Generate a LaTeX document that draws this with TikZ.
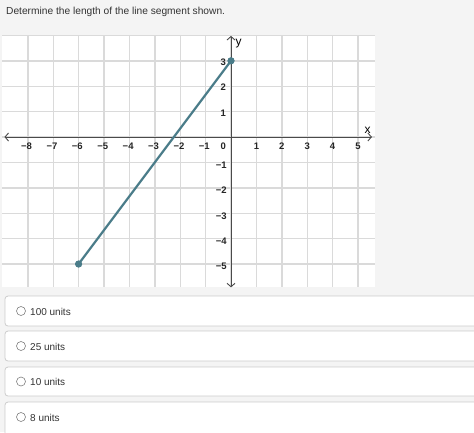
\documentclass[tikz,border=0pt]{standalone}
\usepackage{fontspec}
\setmainfont{Liberation Sans}
\usetikzlibrary{arrows.meta}
\definecolor{pagebg}{HTML}{F4F4F4}
\definecolor{gridc}{HTML}{DADADA}
\definecolor{axisc}{HTML}{4A4A4A}
\definecolor{segc}{RGB}{74,124,137}
\definecolor{txtc}{HTML}{333333}
\definecolor{boxc}{HTML}{CCCCCC}
\tikzset{
  gridline/.style={draw=gridc, line width=1.4pt},
  axisline/.style={draw=axisc, line width=0.9pt, {Straight Barb[length=3.5pt,width=8pt]}-{Straight Barb[length=3.5pt,width=8pt]}},
  ticklab/.style={font=\fontsize{9.5}{10}\selectfont\bfseries, text=black!85, inner sep=0pt},
  seg/.style={draw=segc, line width=2.2pt},
  enddot/.style={circle, fill=segc, inner sep=0pt, minimum size=7pt},
  answerbox/.style={draw=boxc, fill=white, line width=0.8pt, rounded corners=3pt},
  radio/.style={circle, draw=gray, line width=0.6pt, fill=white, inner sep=0pt, minimum size=9pt},
  anstext/.style={font=\fontsize{10}{12}\selectfont, text=txtc, anchor=west, inner sep=0pt}
}
\begin{document}
\begin{tikzpicture}[x=1pt, y=-1pt]
\useasboundingbox (0,0) rectangle (474,432);
\fill[pagebg] (0,0) rectangle (474,432);
\node[anchor=west, inner sep=0pt, text=txtc, font=\fontsize{10.2}{12}\selectfont] (title) at (6,12) {Determine the length of the line segment shown.};
\begin{scope}[shift={(231,137)}, x=25.4pt, y=25.4pt]
  \fill[white] (-9,-5.9) rectangle (5.67,4);
  \foreach \i in {-8,...,5} { \draw[gridline] (\i,-5.9) -- (\i,4); }
  \foreach \j in {-5,...,4} { \draw[gridline] (-9,\j) -- (5.67,\j); }
  \draw[axisline] (-8.92,0) -- (5.55,0);
  \draw[axisline] (0,-5.92) -- (0,3.98);
  \node[font=\fontsize{12}{12}\selectfont, inner sep=0pt] (xlab) at (5.38,0.25) {x};
  \node[font=\fontsize{12}{12}\selectfont, inner sep=0pt] (ylab) at (0.3,3.66) {y};
  \foreach \i in {-8,...,-1} { \node[ticklab] at (\i-0.05,-0.38) {−\the\numexpr-\i\relax}; }
  \foreach \i in {1,...,5} { \node[ticklab] at (\i,-0.38) {\i}; }
  \node[ticklab] at (-0.3,-0.38) {0};
  \foreach \j in {1,...,3} { \node[ticklab, anchor=east] at (-0.19,\j-0.05) {\j}; }
  \foreach \j in {-5,...,-1} { \node[ticklab, anchor=east] at (-0.16,\j-0.1) {−\the\numexpr-\j\relax}; }
  \node[enddot] (A) at (-6,-5) {};
  \node[enddot] (B) at (0,3) {};
  \draw[seg] (A.center) -- (B.center);
  \node[enddot] at (A) {};
  \node[enddot] at (B) {};
\end{scope}
\foreach \t/\b/\c/\lab [count=\k] in {296/326/311/100 units, 331/361/346/25 units, 367/396/381.5/10 units, 402/437/417/8 units} {
  \draw[answerbox] (5,\t) rectangle (480,\b);
  \node[radio] (r\k) at (21,\c) {};
  \node[anstext] (a\k) at (30,\c+0.5) {\lab};
}
\end{tikzpicture}
\end{document}
